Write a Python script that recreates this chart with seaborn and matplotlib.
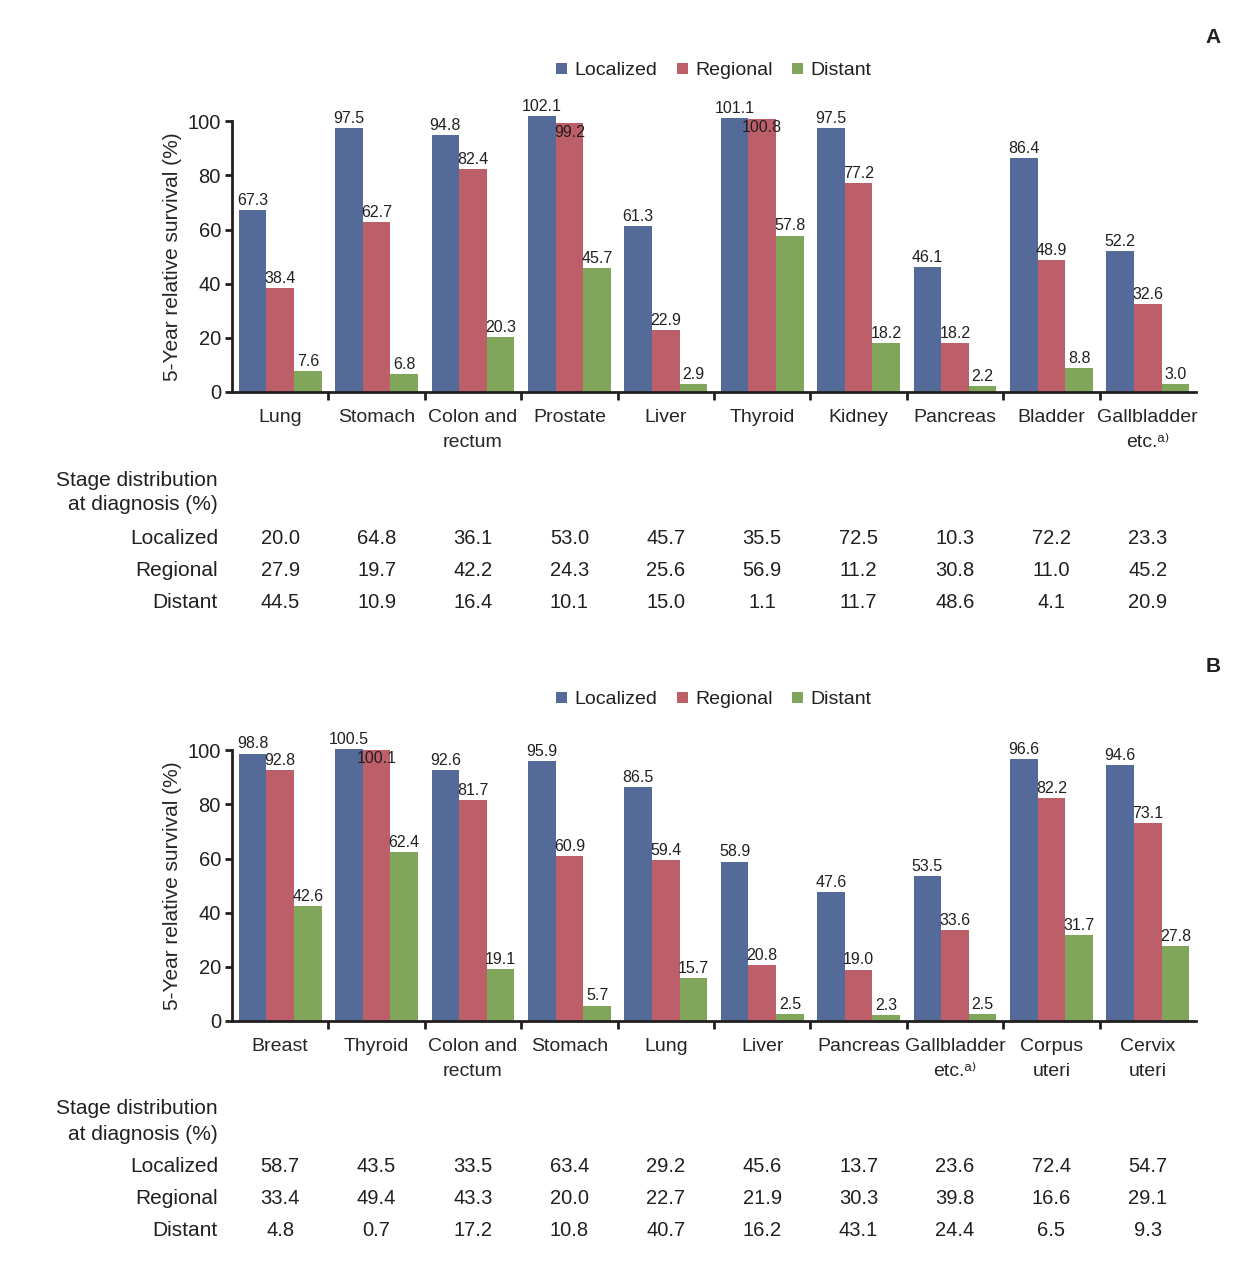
import matplotlib
matplotlib.use("Agg")
import matplotlib.pyplot as plt
import matplotlib.transforms as mtransforms
import numpy as np
import pandas as pd
import seaborn as sns

# Panel A data
a_cancers = ["Lung", "Stomach", "Colon and\nrectum", "Prostate", "Liver", "Thyroid",
             "Kidney", "Pancreas", "Bladder", "Gallbladder\netc.ᵃ⁾"]
a_localized = [67.3, 97.5, 94.8, 102.1, 61.3, 101.1, 97.5, 46.1, 86.4, 52.2]
a_regional = [38.4, 62.7, 82.4, 99.2, 22.9, 100.8, 77.2, 18.2, 48.9, 32.6]
a_distant = [7.6, 6.8, 20.3, 45.7, 2.9, 57.8, 18.2, 2.2, 8.8, 3.0]
a_stage_loc = [20.0, 64.8, 36.1, 53.0, 45.7, 35.5, 72.5, 10.3, 72.2, 23.3]
a_stage_reg = [27.9, 19.7, 42.2, 24.3, 25.6, 56.9, 11.2, 30.8, 11.0, 45.2]
a_stage_dist = [44.5, 10.9, 16.4, 10.1, 15.0, 1.1, 11.7, 48.6, 4.1, 20.9]

# Panel B data
b_cancers = ["Breast", "Thyroid", "Colon and\nrectum", "Stomach", "Lung", "Liver",
             "Pancreas", "Gallbladder\netc.ᵃ⁾", "Corpus\nuteri", "Cervix\nuteri"]
b_localized = [98.8, 100.5, 92.6, 95.9, 86.5, 58.9, 47.6, 53.5, 96.6, 94.6]
b_regional = [92.8, 100.1, 81.7, 60.9, 59.4, 20.8, 19.0, 33.6, 82.2, 73.1]
b_distant = [42.6, 62.4, 19.1, 5.7, 15.7, 2.5, 2.3, 2.5, 31.7, 27.8]
b_stage_loc = [58.7, 43.5, 33.5, 63.4, 29.2, 45.6, 13.7, 23.6, 72.4, 54.7]
b_stage_reg = [33.4, 49.4, 43.3, 20.0, 22.7, 21.9, 30.3, 39.8, 16.6, 29.1]
b_stage_dist = [4.8, 0.7, 17.2, 10.8, 40.7, 16.2, 43.1, 24.4, 6.5, 9.3]

stages = ["Localized", "Regional", "Distant"]
colors = {"Localized": "#546a98", "Regional": "#bd5f69", "Distant": "#80a65c"}
ink = "#231f20"

sns.set_style("white")
plt.rcParams["font.family"] = ["Liberation Sans", "DejaVu Sans"]
plt.rcParams["text.color"] = ink

W, H = 1255, 1271
fig = plt.figure(figsize=(W / 100, H / 100), dpi=100)


def panel(ax, cancers, loc, reg, dist, st_loc, st_reg, st_dist, letter, table_y):
    df = pd.DataFrame({
        "cancer": cancers * 3,
        "stage": np.repeat(stages, len(cancers)),
        "value": loc + reg + dist,
    })
    sns.barplot(data=df, x="cancer", y="value", hue="stage", order=cancers,
                hue_order=stages, palette=colors, saturation=1, width=0.86,
                errorbar=None, linewidth=0, ax=ax)

    for k, cont in enumerate(ax.containers):
        anns = ax.bar_label(cont, fmt="%.1f", padding=1.5, fontsize=11.5, color=ink)
        if k == 1:
            # regional label that would collide with the localized one sits inside the bar top
            for i, ann in enumerate(anns):
                if abs(loc[i] - reg[i]) < 4:
                    ann.set_va("top")
                    ann.xyann = (0, -1)

    ax.set_xlim(-0.5, len(cancers) - 0.5)
    ax.set_ylim(0, 110)
    ax.set_yticks([0, 20, 40, 60, 80, 100])
    ax.spines["left"].set_bounds(0, 100)
    for s in ["top", "right"]:
        ax.spines[s].set_visible(False)
    for s in ["left", "bottom"]:
        ax.spines[s].set_linewidth(2)
        ax.spines[s].set_color(ink)

    # boundary ticks without labels, category labels on minor ticks
    ax.set_xticks(np.arange(len(cancers) - 1) + 0.5)
    ax.set_xticklabels([])
    ax.set_xticks(np.arange(len(cancers)), minor=True)
    ax.set_xticklabels(cancers, minor=True, fontsize=14, linespacing=1.64)
    ax.tick_params(axis="x", which="major", direction="out", length=6, width=2,
                   colors=ink, bottom=True)
    ax.tick_params(axis="x", which="minor", length=0, pad=12, bottom=True)
    ax.tick_params(axis="y", direction="out", length=5, width=2, labelsize=14.5,
                   colors=ink, left=True, pad=3)
    ax.set_xlabel("")
    ax.set_ylabel("5-Year relative survival (%)", fontsize=15)
    ax.yaxis.set_label_coords(-50 / 964, 50 / 110)

    handles, labels = ax.get_legend_handles_labels()
    ax.legend(handles, labels, loc="center", bbox_to_anchor=(0.5, 1.078), ncol=3,
              frameon=False, fontsize=14, handlelength=0.55, handleheight=0.55,
              handletextpad=0.4, columnspacing=1.0)

    ax.text(1.0 + 17 / 964, 1.0 + 57 / 298, letter, transform=ax.transAxes,
            fontsize=15, fontweight="bold", ha="center", va="center")

    # stage distribution table
    trans = mtransforms.blended_transform_factory(ax.transData, fig.transFigure)
    xr = 218 / W
    fig.text(xr, 1 - table_y[0] / H, "Stage distribution", ha="right", va="center",
             fontsize=15)
    fig.text(xr, 1 - table_y[1] / H, "at diagnosis (%)", ha="right", va="center",
             fontsize=15)
    for name, vals, py in zip(stages, [st_loc, st_reg, st_dist], table_y[2:]):
        fig.text(xr, 1 - py / H, name, ha="right", va="center", fontsize=15)
        for i, v in enumerate(vals):
            ax.text(i, 1 - py / H, f"{v:.1f}", transform=trans, ha="center",
                    va="center", fontsize=14.5)


ax_a = fig.add_axes([232 / W, 1 - 392 / H, 964 / W, 297.8 / H])
panel(ax_a, a_cancers, a_localized, a_regional, a_distant,
      a_stage_loc, a_stage_reg, a_stage_dist, "A", [480, 505, 538, 570, 602])

ax_b = fig.add_axes([232 / W, 1 - 1021 / H, 964 / W, 297.8 / H])
panel(ax_b, b_cancers, b_localized, b_regional, b_distant,
      b_stage_loc, b_stage_reg, b_stage_dist, "B", [1109, 1134, 1167, 1199, 1231])

fig.savefig("out.png", dpi=100)
